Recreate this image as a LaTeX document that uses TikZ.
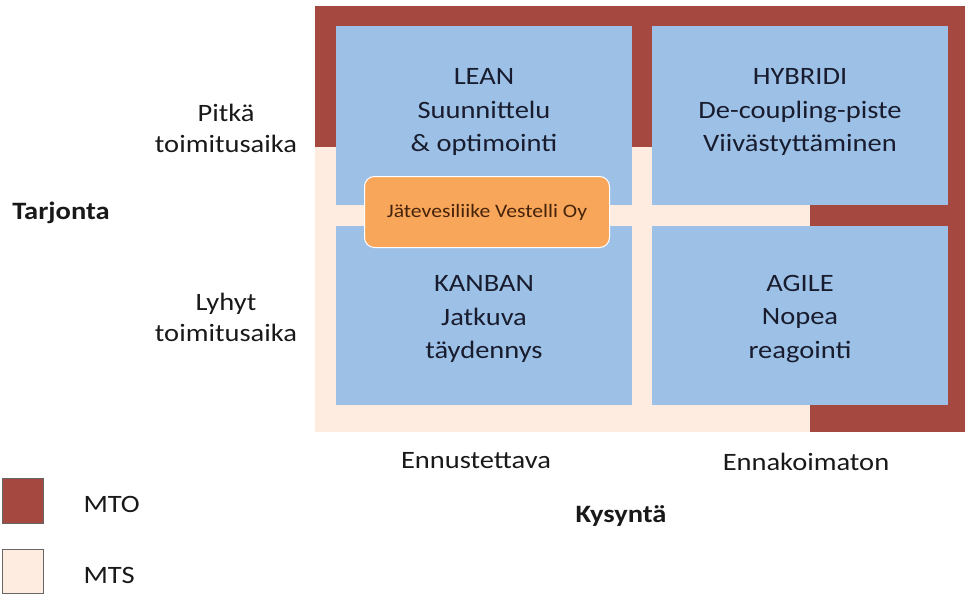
\documentclass[tikz,border=0pt]{standalone}
\usepackage{fontspec}
\setmainfont{Carlito}[FakeStretch=1.14]
\definecolor{mto}{RGB}{165,73,64}
\definecolor{mts}{RGB}{253,236,223}
\definecolor{boxblue}{RGB}{157,193,230}
\definecolor{orng}{RGB}{247,166,90}
\definecolor{boxtext}{RGB}{24,28,46}
\definecolor{orngtext}{RGB}{70,35,10}
\definecolor{lbltext}{RGB}{25,25,25}
\begin{document}
\begin{tikzpicture}[x=1pt,y=-1pt,
  quad/.style={fill=boxblue,draw=none},
  mtoarea/.style={fill=mto,draw=none},
  quadtext/.style={align=center,text=boxtext,font=\fontsize{25}{33.5}\selectfont},
  lbl/.style={align=center,text=lbltext,font=\fontsize{25}{31}\selectfont},
  boldlbl/.style={text=lbltext,font=\fontsize{25}{30}\selectfont\bfseries},
  legendbox/.style={draw=black!60,line width=0.8pt}
]
\useasboundingbox (0,0) rectangle (965,596);
% frame (MTS background)
\fill[mts] (315,6) rectangle (965,432);
% MTO bands
\fill[mtoarea] (315,6) rectangle (965,26);
\fill[mtoarea] (315,26) rectangle (336,147);
\fill[mtoarea] (632,26) rectangle (652,147);
\fill[mtoarea] (948,6) rectangle (965,432);
\fill[mtoarea] (810,205) rectangle (948,226);
\fill[mtoarea] (810,405) rectangle (965,432);
% quadrants
\fill[quad] (336,26) rectangle (632,205);
\fill[quad] (652,26) rectangle (948,205);
\fill[quad] (336,226) rectangle (632,405);
\fill[quad] (652,226) rectangle (948,405);
% quadrant texts
\node[quadtext] (lean) at (484,112) {LEAN\\Suunnittelu\\\& optimointi};
\node[quadtext] (hybridi) at (800,112) {HYBRIDI\\De-coupling-piste\\Viivästyttäminen};
\node[quadtext] (kanban) at (484,319) {KANBAN\\Jatkuva\\täydennys};
\node[quadtext] (agile) at (800,319) {AGILE\\Nopea\\reagointi};
% company box
\node[fill=orng,draw=white,line width=1pt,rounded corners=10pt,minimum width=245pt,minimum height=71pt,
  text=orngtext,font=\fontsize{19}{22}\selectfont] (company) at (487,212) {Jätevesiliike Vestelli Oy};
% axis labels
\node[lbl] (pitka) at (226,128) {Pitkä\\toimitusaika};
\node[lbl] (lyhyt) at (226,317) {Lyhyt\\toimitusaika};
\node[boldlbl] (tarjonta) at (61,213) {Tarjonta};
\node[lbl] (ennust) at (476,461) {Ennustettava};
\node[lbl] (ennak) at (806,462) {Ennakoimaton};
\node[boldlbl] (kysynta) at (621,516) {Kysyntä};
% legend
\filldraw[legendbox,fill=mto] (2,478) rectangle (43,523);
\node[lbl,anchor=west] (mto) at (80,504) {MTO};
\filldraw[legendbox,fill=mts] (2,549) rectangle (43,593);
\node[lbl,anchor=west] (mts) at (80,575) {MTS};
\end{tikzpicture}
\end{document}
